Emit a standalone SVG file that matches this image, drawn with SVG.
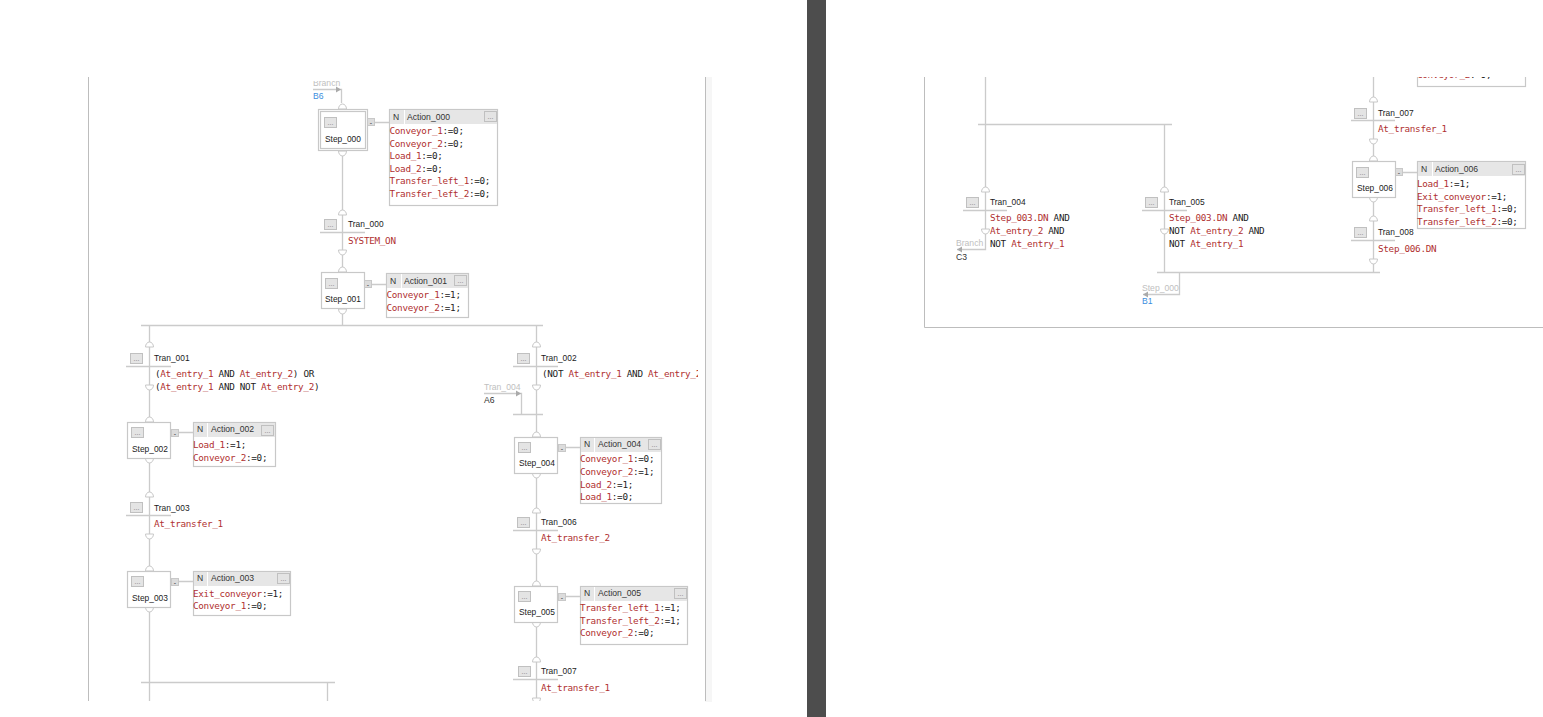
<svg xmlns="http://www.w3.org/2000/svg" xmlns:xlink="http://www.w3.org/1999/xlink" width="1543" height="717" viewBox="0 0 1543 717">
<style>
.ln{stroke:#cbcbcb;stroke-width:1.3;fill:none}
.pg{stroke:#bdbdbd;stroke-width:1;fill:none}
.box{fill:#fff;stroke:#c8c8c8;stroke-width:1.2}
.hd{fill:#e6e6e6}
.dv{stroke:#fff;stroke-width:1}
.s{font-family:"Liberation Sans",Arial,sans-serif;font-size:8.4px;fill:#1a1a1a}
.g{font-family:"Liberation Sans",Arial,sans-serif;font-size:8.6px;fill:#c0c0c0}
.k{font-family:"Liberation Sans",Arial,sans-serif;font-size:8.6px;fill:#333}
.b{font-family:"Liberation Sans",Arial,sans-serif;font-size:8.6px;fill:#3b8ede}
.c{font-family:"DejaVu Sans Mono","Liberation Mono",monospace;font-size:9.3px;letter-spacing:-0.3px;fill:#222}
.r{fill:#b03030}
</style>
<defs>
<clipPath id="cl"><rect x="88" y="77" width="610" height="624"/></clipPath>
<clipPath id="cr"><rect x="924" y="77" width="619" height="260"/></clipPath>
<clipPath id="ct"><rect x="300" y="81" width="60" height="10"/></clipPath>
<path id="dome" d="M-4 0a4 5 0 0 1 8 0z" fill="#fff" stroke="#c8c8c8"/>
<path id="cup" d="M-4 0a4 5 0 0 0 8 0z" fill="#fff" stroke="#c8c8c8"/>
<path id="ar" d="M0 0l-5-3v6z" fill="#aaa"/>
<g id="btn"><rect x="0.5" y="0.5" width="12" height="10" fill="#e4e4e4" stroke="#c0c0c0"/><text x="6.5" y="8" font-family="Liberation Sans,sans-serif" font-size="7" fill="#777" text-anchor="middle">...</text></g>
<g id="mini"><rect x="0.5" y="0.5" width="7" height="7" fill="#dcdcdc" stroke="#c8c8c8"/><text x="4" y="6.500" font-family="Liberation Sans,sans-serif" font-size="7" fill="#333" text-anchor="middle">-</text></g>
</defs>

<rect x="705" y="77" width="7" height="625" fill="#f6f6f6"/>
<path class="pg" d="M88.500 77V701M705.500 77V701"/>
<rect x="807" y="0" width="19" height="717" fill="#4d4d4d"/>
<path class="pg" d="M924.500 77V327.500H1543"/>

<g id="connectors">
<g clip-path="url(#cl)">
<path class="ln" d="M313 89.500H341.500V103M342.500 151V272M342.500 309V325M141 325.500H543M149.500 325V422M149.500 458V571M149.500 607V701M141 682.500H335M327.500 682V701M536.500 325V437M484 393.500H521.500V414M513 414.500H543M536.500 473V586M536.500 622V701"/>
<path class="ln" d="M375 122.500H389M372 284.500H386M179 432.500H193M179 581.500H193M566 447.500H580M566 596.500H580"/>
<use href="#ar" x="341" y="89.500"/><use href="#ar" x="521" y="393.500"/>
<use href="#dome" x="342.500" y="109"/><use href="#cup" x="342.500" y="151"/><use href="#dome" x="342.500" y="215"/><use href="#cup" x="342.500" y="250"/><use href="#dome" x="342.500" y="272"/><use href="#cup" x="342.500" y="309"/>
<use href="#dome" x="149.500" y="347"/><use href="#cup" x="149.500" y="385"/><use href="#dome" x="149.500" y="422"/><use href="#cup" x="149.500" y="458"/><use href="#dome" x="149.500" y="497"/><use href="#cup" x="149.500" y="534"/><use href="#dome" x="149.500" y="571"/><use href="#cup" x="149.500" y="607"/>
<use href="#dome" x="536.500" y="347"/><use href="#cup" x="536.500" y="385"/><use href="#dome" x="536.500" y="437"/><use href="#cup" x="536.500" y="473"/><use href="#dome" x="536.500" y="513"/><use href="#cup" x="536.500" y="549"/><use href="#dome" x="536.500" y="586"/><use href="#cup" x="536.500" y="622"/><use href="#dome" x="536.500" y="662"/><use href="#cup" x="536.500" y="698"/>
<text class="g" x="313" y="86" clip-path="url(#ct)">Branch</text><text class="b" x="313" y="99">B6</text>
<text class="g" x="484" y="390">Tran_004</text><text class="k" x="484" y="403">A6</text>
</g>
<g clip-path="url(#cr)">
<path class="ln" d="M985.500 77V249.500H957M978 124.500H1172M1164.500 124V272M1157 272.500H1380M1179.500 272V294.500H1143M1373.500 77V161M1373.500 197V272M1403 172.500H1417"/>
<use href="#ar" x="957" y="249.500" transform="rotate(180 957 249.500)"/><use href="#ar" x="1143" y="294.500" transform="rotate(180 1143 294.500)"/>
<use href="#dome" x="985.500" y="192"/><use href="#cup" x="985.500" y="229"/><use href="#dome" x="1164.500" y="192"/><use href="#cup" x="1164.500" y="229"/>
<use href="#dome" x="1373.500" y="102"/><use href="#cup" x="1373.500" y="139"/><use href="#dome" x="1373.500" y="161"/><use href="#cup" x="1373.500" y="197"/><use href="#dome" x="1373.500" y="221"/><use href="#cup" x="1373.500" y="259"/>
<text class="g" x="956" y="246">Branch</text><text class="k" x="956" y="260">C3</text>
<text class="g" x="1142" y="291">Step_000</text><text class="b" x="1142" y="304">B1</text>
</g>
</g>

<g id="Step_000"><rect class="box" x="318.500" y="109.500" width="49" height="41"/><rect class="box" x="320.500" y="111.500" width="45" height="37"/><use href="#btn" x="324" y="117"/><text class="s" x="325" y="142">Step_000</text><use href="#mini" x="367" y="118"/></g>
<g id="Action_000"><rect class="box" x="389.500" y="109.500" width="108" height="96"/><rect class="hd" x="390" y="110" width="107" height="14"/><path class="dv" d="M404.500 110V124"/><text class="k" x="393" y="120">N</text><text class="k" x="407" y="120">Action_000</text><use href="#btn" x="484" y="111"/>
<text class="c" x="389.500" y="134"><tspan class="r">Conveyor_1</tspan>:=0;</text><text class="c" x="389.500" y="147"><tspan class="r">Conveyor_2</tspan>:=0;</text><text class="c" x="389.500" y="159"><tspan class="r">Load_1</tspan>:=0;</text><text class="c" x="389.500" y="172"><tspan class="r">Load_2</tspan>:=0;</text><text class="c" x="389.500" y="184"><tspan class="r">Transfer_left_1</tspan>:=0;</text><text class="c" x="389.500" y="197"><tspan class="r">Transfer_left_2</tspan>:=0;</text></g>
<g id="Tran_000"><use href="#btn" x="324" y="219"/><text class="s" x="348" y="227">Tran_000</text><path class="ln" d="M320 232.500H365"/><text class="c r" x="348" y="244">SYSTEM_ON</text></g>
<g id="Step_001"><rect class="box" x="321.500" y="272.500" width="43" height="36"/><use href="#btn" x="325" y="278"/><text class="s" x="325" y="302">Step_001</text><use href="#mini" x="364" y="280"/></g>
<g id="Action_001"><rect class="box" x="386.500" y="273.500" width="82" height="44"/><rect class="hd" x="387" y="274" width="81" height="14"/><path class="dv" d="M401.500 274V288"/><text class="k" x="390" y="284">N</text><text class="k" x="404" y="284">Action_001</text><use href="#btn" x="454" y="275"/>
<text class="c" x="386.500" y="298"><tspan class="r">Conveyor_1</tspan>:=1;</text><text class="c" x="386.500" y="311"><tspan class="r">Conveyor_2</tspan>:=1;</text></g>

<g id="Tran_001"><use href="#btn" x="130" y="353"/><text class="s" x="154" y="361">Tran_001</text><path class="ln" d="M126 366.500H171"/><text class="c" x="155" y="377">(<tspan class="r">At_entry_1</tspan> AND <tspan class="r">At_entry_2</tspan>) OR</text><text class="c" x="155" y="390">(<tspan class="r">At_entry_1</tspan> AND NOT <tspan class="r">At_entry_2</tspan>)</text></g>
<g id="Step_002"><rect class="box" x="127.500" y="422.500" width="43" height="36"/><use href="#btn" x="131" y="427"/><text class="s" x="132" y="452">Step_002</text><use href="#mini" x="171" y="429"/></g>
<g id="Action_002"><rect class="box" x="193.500" y="422.500" width="82" height="44"/><rect class="hd" x="194" y="423" width="81" height="14"/><path class="dv" d="M207.500 423V437"/><text class="k" x="197" y="432">N</text><text class="k" x="211" y="432">Action_002</text><use href="#btn" x="261" y="425"/>
<text class="c" x="193" y="448"><tspan class="r">Load_1</tspan>:=1;</text><text class="c" x="193" y="461"><tspan class="r">Conveyor_2</tspan>:=0;</text></g>
<g id="Tran_003"><use href="#btn" x="130" y="502"/><text class="s" x="154" y="511">Tran_003</text><path class="ln" d="M126 515.500H171"/><text class="c r" x="154" y="527">At_transfer_1</text></g>
<g id="Step_003"><rect class="box" x="127.500" y="571.500" width="43" height="36"/><use href="#btn" x="131" y="576"/><text class="s" x="132" y="601">Step_003</text><use href="#mini" x="171" y="578"/></g>
<g id="Action_003"><rect class="box" x="193.500" y="571.500" width="97" height="44"/><rect class="hd" x="194" y="572" width="96" height="14"/><path class="dv" d="M207.500 572V586"/><text class="k" x="197" y="581">N</text><text class="k" x="211" y="581">Action_003</text><use href="#btn" x="277" y="573"/>
<text class="c" x="193" y="597"><tspan class="r">Exit_conveyor</tspan>:=1;</text><text class="c" x="193" y="609"><tspan class="r">Conveyor_1</tspan>:=0;</text></g>

<g clip-path="url(#cl)">
<g id="Tran_002"><use href="#btn" x="517" y="353"/><text class="s" x="541" y="361">Tran_002</text><path class="ln" d="M513 366.500H558"/><text class="c" x="542" y="377">(NOT <tspan class="r">At_entry_1</tspan> AND <tspan class="r">At_entry_2</tspan></text></g>
<g id="Step_004"><rect class="box" x="514.500" y="437.500" width="43" height="36"/><use href="#btn" x="518" y="442"/><text class="s" x="519" y="466">Step_004</text><use href="#mini" x="558" y="444"/></g>
<g id="Action_004"><rect class="box" x="580.500" y="437.500" width="81" height="66"/><rect class="hd" x="581" y="438" width="80" height="14"/><path class="dv" d="M594.500 438V452"/><text class="k" x="584" y="447">N</text><text class="k" x="598" y="447">Action_004</text><use href="#btn" x="648" y="439"/>
<text class="c" x="580" y="462"><tspan class="r">Conveyor_1</tspan>:=0;</text><text class="c" x="580" y="475"><tspan class="r">Conveyor_2</tspan>:=1;</text><text class="c" x="580" y="488"><tspan class="r">Load_2</tspan>:=1;</text><text class="c" x="580" y="500"><tspan class="r">Load_1</tspan>:=0;</text></g>
<g id="Tran_006"><use href="#btn" x="517" y="517"/><text class="s" x="541" y="525">Tran_006</text><path class="ln" d="M513 530.500H558"/><text class="c r" x="541" y="541">At_transfer_2</text></g>
<g id="Step_005"><rect class="box" x="514.500" y="586.500" width="43" height="36"/><use href="#btn" x="518" y="591"/><text class="s" x="519" y="615">Step_005</text><use href="#mini" x="558" y="593"/></g>
<g id="Action_005"><rect class="box" x="580.500" y="586.500" width="107" height="58"/><rect class="hd" x="581" y="587" width="106" height="14"/><path class="dv" d="M594.500 587V601"/><text class="k" x="584" y="596">N</text><text class="k" x="598" y="596">Action_005</text><use href="#btn" x="674" y="588"/>
<text class="c" x="580" y="611"><tspan class="r">Transfer_left_1</tspan>:=1;</text><text class="c" x="580" y="624"><tspan class="r">Transfer_left_2</tspan>:=1;</text><text class="c" x="580" y="636"><tspan class="r">Conveyor_2</tspan>:=0;</text></g>
<g id="Tran_007"><use href="#btn" x="518" y="666"/><text class="s" x="541" y="674">Tran_007</text><path class="ln" d="M513 679.500H558"/><text class="c r" x="541" y="691">At_transfer_1</text></g>
</g>

<g clip-path="url(#cr)">
<g id="Tran_004"><use href="#btn" x="966" y="197"/><text class="s" x="990" y="205">Tran_004</text><path class="ln" d="M963 210.500H1007"/><text class="c" x="990" y="221"><tspan class="r">Step_003.DN</tspan> AND</text><text class="c" x="990" y="234"><tspan class="r">At_entry_2</tspan> AND</text><text class="c" x="990" y="247">NOT <tspan class="r">At_entry_1</tspan></text></g>
<g id="Tran_005"><use href="#btn" x="1145" y="197"/><text class="s" x="1169" y="205">Tran_005</text><path class="ln" d="M1142 210.500H1187"/><text class="c" x="1169" y="221"><tspan class="r">Step_003.DN</tspan> AND</text><text class="c" x="1169" y="234">NOT <tspan class="r">At_entry_2</tspan> AND</text><text class="c" x="1169" y="247">NOT <tspan class="r">At_entry_1</tspan></text></g>
<g id="Action_005b"><rect class="box" x="1417.500" y="60.500" width="108" height="26"/><text class="c" x="1417" y="78"><tspan class="r">Conveyor_2</tspan>:=0;</text></g>
<g id="Tran_007b"><use href="#btn" x="1354" y="108"/><text class="s" x="1378" y="116">Tran_007</text><path class="ln" d="M1351 120.500H1395"/><text class="c r" x="1378" y="132">At_transfer_1</text></g>
<g id="Step_006"><rect class="box" x="1352.500" y="161.500" width="43" height="36"/><use href="#btn" x="1356" y="167"/><text class="s" x="1357" y="191">Step_006</text><use href="#mini" x="1395" y="168"/></g>
<g id="Action_006"><rect class="box" x="1417.500" y="161.500" width="108" height="67"/><rect class="hd" x="1418" y="162" width="107" height="14"/><path class="dv" d="M1432.500 162V176"/><text class="k" x="1421" y="172">N</text><text class="k" x="1435" y="172">Action_006</text><use href="#btn" x="1512" y="164"/>
<text class="c" x="1417" y="187"><tspan class="r">Load_1</tspan>:=1;</text><text class="c" x="1417" y="200"><tspan class="r">Exit_conveyor</tspan>:=1;</text><text class="c" x="1417" y="212"><tspan class="r">Transfer_left_1</tspan>:=0;</text><text class="c" x="1417" y="225"><tspan class="r">Transfer_left_2</tspan>:=0;</text></g>
<g id="Tran_008"><use href="#btn" x="1354" y="227"/><text class="s" x="1378" y="235">Tran_008</text><path class="ln" d="M1351 240.500H1395"/><text class="c r" x="1378" y="252">Step_006.DN</text></g>
</g>
</svg>
